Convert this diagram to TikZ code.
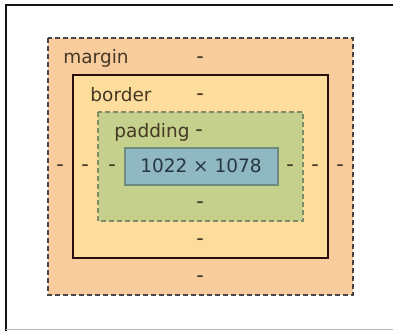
\documentclass[tikz,border=0pt]{standalone}
\usepackage{fontspec}
\setmainfont{DejaVu Sans}
\definecolor{marginfill}{RGB}{249,204,158}
\definecolor{borderfill}{RGB}{253,221,156}
\definecolor{paddingfill}{RGB}{196,208,140}
\definecolor{contentfill}{RGB}{143,184,194}
\definecolor{contentedge}{RGB}{110,140,125}
\definecolor{labeltext}{RGB}{70,56,36}
\definecolor{sizetext}{RGB}{40,56,66}
\tikzset{
  boxlabel/.style={text=labeltext,font=\fontsize{18.5}{21}\selectfont,inner sep=0pt},
  boxdash/.style={text=labeltext,font=\fontsize{14}{16}\selectfont\bfseries,inner sep=0pt}
}
\begin{document}
\begin{tikzpicture}[x=1pt,y=1pt,yscale=-1,xscale=1]
\useasboundingbox (0,0) rectangle (393,331);

%Frame
\draw [color={rgb, 255:red, 20; green, 20; blue, 20 }, line width=2] (393,5) -- (6,5) -- (6,331) ;
\draw [color={rgb, 255:red, 185; green, 185; blue, 185 }, line width=1] (6,329.5) -- (393,329.5) ;

%Shape: Rectangle [margin]
\draw [color={rgb, 255:red, 70; green, 70; blue, 70 }, fill=marginfill, line width=1.2, dash pattern={on 5pt off 3pt}] (48,38) rectangle (353,295) ;
%Shape: Rectangle [border]
\draw [color={rgb, 255:red, 40; green, 14; blue, 14 }, fill=borderfill, line width=1.6] (73,75) rectangle (328,258) ;
%Shape: Rectangle [padding]
\draw [color={rgb, 255:red, 128; green, 138; blue, 100 }, fill=paddingfill, line width=1.2, dash pattern={on 5pt off 3pt}] (98,112) rectangle (303,221) ;
%Shape: Rectangle [content]
\draw [color=contentedge, fill=contentfill, line width=1.2] (125,148) rectangle (278,185) ;

% Text Node
\node [boxlabel] (marginlabel) at (96,58) {margin};
% Text Node
\node [boxlabel] (borderlabel) at (121,95) {border};
% Text Node
\node [boxlabel] (paddinglabel) at (152,132) {padding};
% Text Node
\node [boxlabel, text=sizetext] (size) at (201,166) {1022 × 1078};

% Text Node
\node [boxdash] (margintop) at (200,59) {–};
\node [boxdash] (bordertop) at (200,96) {–};
\node [boxdash] (paddingtop) at (199,132) {–};
\node [boxdash] (marginleft) at (60,167) {–};
\node [boxdash] (borderleft) at (85,167) {–};
\node [boxdash] (paddingleft) at (112,167) {–};
\node [boxdash] (paddingright) at (290,167) {–};
\node [boxdash] (borderright) at (315,167) {–};
\node [boxdash] (marginright) at (340,167) {–};
\node [boxdash] (paddingbottom) at (200,204) {–};
\node [boxdash] (borderbottom) at (200,241) {–};
\node [boxdash] (marginbottom) at (200,278) {–};

\end{tikzpicture}
\end{document}
